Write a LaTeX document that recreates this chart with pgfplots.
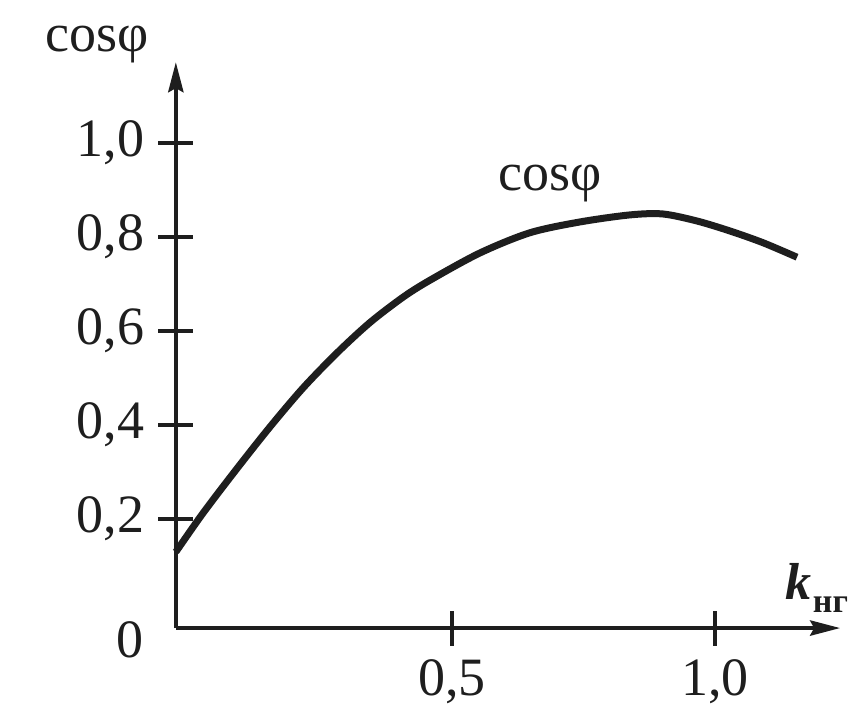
\documentclass[border=0pt]{standalone}
\usepackage{pgfplots}
\pgfplotsset{compat=1.18}
\usepackage{fontspec}
\setmainfont{Liberation Serif}
\usetikzlibrary{arrows.meta}
\definecolor{ink}{RGB}{30,30,30}
\begin{document}
\begin{tikzpicture}
\begin{axis}[
  x=131.5pt, y=117.5pt,
  xmin=-0.025, xmax=1.238, ymin=-0.032, ymax=1.172,
  axis lines=left,
  axis line style={line width=1pt, draw=ink, -{Stealth[length=7.5pt,width=3.8pt,inset=1pt]}},
  xtick={0.5,1.0}, xticklabels={{0,5},{1,0}},
  ytick={0.2,0.4,0.6,0.8,1.0}, yticklabels={{0,2},{0,4},{0,6},{0,8},{1,0}},
  tick align=center, major tick length=8.75pt,
  tick style={line width=1pt, draw=ink},
  ticklabel style={font=\fontsize{13.5}{16}\selectfont, text=ink},
  clip=false,
]
\addplot[ink, line width=1.75pt, smooth, tension=0.5] coordinates {
(-0.025,0.130) (0.027,0.213) (0.091,0.307) (0.154,0.396) (0.217,0.479)
(0.281,0.553) (0.344,0.618) (0.407,0.672) (0.458,0.708) (0.553,0.766)
(0.648,0.809) (0.743,0.832) (0.838,0.847) (0.901,0.849) (0.966,0.834)
(1.028,0.813) (1.091,0.788) (1.156,0.757)
};
\node[anchor=base, text=ink, font=\fontsize{13.5}{16}\selectfont] at (axis cs:-0.175,1.194) {cosφ};
\node[anchor=base, text=ink, font=\fontsize{13.5}{16}\selectfont] at (axis cs:0.686,0.90) {cosφ};
\node[anchor=center, text=ink, font=\fontsize{13.5}{16}\selectfont] at (axis cs:-0.112,-0.057) {0};
\node[anchor=base west, inner sep=0pt, text=ink] at (axis cs:1.133,0.028) {\fontsize{13}{15}\selectfont\bfseries\itshape k\kern0.3pt\raisebox{-0.25em}{\fontsize{8.5}{10}\selectfont\bfseries\upshape нг}};
\coordinate (bl) at (axis cs:-0.3593,-0.2319);
\coordinate (tr) at (axis cs:1.2529,1.3043);
\end{axis}
\pgfresetboundingbox
\path[use as bounding box] (bl) rectangle (tr);
\end{tikzpicture}
\end{document}
